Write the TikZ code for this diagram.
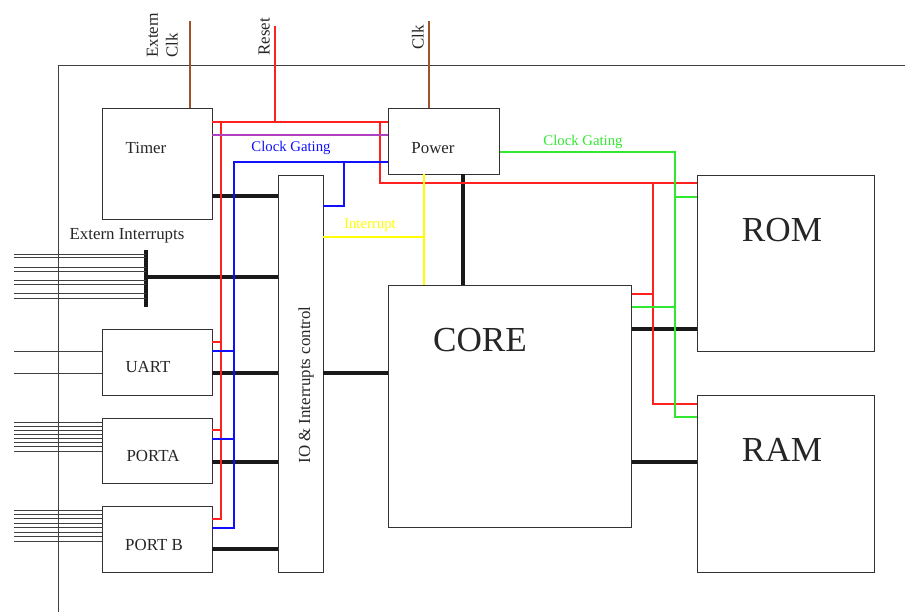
\documentclass[tikz,border=0pt]{standalone}
\usepackage{fontspec}
\setmainfont{Liberation Serif}
\usetikzlibrary{fit}
\definecolor{Brown}{HTML}{A0522D}
\definecolor{Red}{HTML}{FF2020}
\definecolor{Purple}{HTML}{B040C0}
\definecolor{Blue}{HTML}{1010FF}
\definecolor{Green}{HTML}{30E830}
\definecolor{Yellow}{HTML}{FFFF00}
\tikzset{
  blk/.style={draw=black!80,line width=0.7pt,inner sep=0pt},
  bus/.style={line width=2.3pt,black!90},
  wire/.style={line width=0.9pt},
  pin/.style={line width=0.6pt,black!75},
  txt/.style={font=\fontsize{12}{14}\selectfont,text=black!85},
  big/.style={font=\fontsize{25}{30}\selectfont,text=black!85},
  small/.style={font=\fontsize{10.5}{12}\selectfont},
}

\begin{document}
\begin{tikzpicture}[x=0.025cm,y=-0.025cm]
  \useasboundingbox (0,0) rectangle (905,612);
  % chip frame
  \draw[pin] (905,65) -- (58,65) -- (58,612);

  % blocks
  \node[blk,fit={(102,108) (212,219)}] (timer) {};
  \node[blk,fit={(388,108) (499,174)}] (power) {};
  \node[blk,fit={(278,175) (323,572)}] (io) {};
  \node[blk,fit={(388,285) (631,527)}] (core) {};
  \node[blk,fit={(697,175) (874,351)}] (rom) {};
  \node[blk,fit={(697,395) (874,572)}] (ram) {};
  \node[blk,fit={(102,329) (212,395)}] (uart) {};
  \node[blk,fit={(102,418) (212,483)}] (porta) {};
  \node[blk,fit={(102,506) (212,572)}] (portb) {};

  \node[txt] at (146,148) {Timer};
  \node[txt] at (433,148) {Power};
  \node[txt,rotate=90] at (306,385) {IO \& Interrupts control};
  \node[big] at (480,340) {CORE};
  \node[big] at (782,230) {ROM};
  \node[big] at (782,450) {RAM};
  \node[txt] at (148,367) {UART};
  \node[txt] at (153,456) {PORTA};
  \node[txt] at (154,545) {PORT B};
  \node[txt] at (127,236) {Extern Interrupts};

  % external pins
  \coordinate (eclk) at (190,21);
  \coordinate (rst) at (275,26);
  \coordinate (clk) at (429,21);
  \node[txt,rotate=90,anchor=south west,inner sep=0pt,align=left] at (178,58) {Extern\\Clk};
  \node[txt,rotate=90,anchor=south west,inner sep=0pt] at (270,56) {Reset};
  \node[txt,rotate=90,anchor=south west,inner sep=0pt] at (424,50) {Clk};
  \draw[wire,Brown] (eclk) -- (eclk |- timer.north);
  \draw[wire,Brown] (clk) -- (clk |- power.north);

  % interrupt inputs
  \coordinate (irqtop) at (146,250);
  \coordinate (irqbot) at (146,307);
  \draw[bus] (irqtop) -- (irqbot);
  \foreach \y in {254.3,257.7,267.3,271.7,280.7,284.3,293.3,298.3}
    \draw[pin] (14,\y) -- (irqtop |- 0,\y);
  \draw[bus] (irqtop |- 0,277) -- (io.west |- 0,277);

  \foreach \y in {351,373}
    \draw[pin] (14,\y) -- (uart.west |- 0,\y);
  \foreach \i in {0,...,7} {
    \draw[pin] (14,{422+4.15*\i}) -- (porta.west |- 0,{422+4.15*\i});
    \draw[pin] (14,{510+4.43*\i}) -- (portb.west |- 0,{510+4.43*\i});
  }

  % data buses
  \draw[bus] (timer.east |- 0,196) -- (io.west |- 0,196);
  \draw[bus] (uart.east |- 0,373) -- (io.west |- 0,373);
  \draw[bus] (porta.east |- 0,462) -- (io.west |- 0,462);
  \draw[bus] (portb.east |- 0,549) -- (io.west |- 0,549);
  \draw[bus] (io.east |- 0,373) -- (core.west |- 0,373);
  \draw[bus] (power.south -| 463,0) -- (core.north -| 463,0);
  \draw[bus] (core.east |- 0,329) -- (rom.west |- 0,329);
  \draw[bus] (core.east |- 0,462) -- (ram.west |- 0,462);

  % reset
  \draw[wire,Red] (timer.east |- 0,122) -- (power.west |- 0,122);
  \draw[wire,Red] (rst) -- (275,122);
  \draw[wire,Red] (221,122) -- (221,519) -- (portb.east |- 0,519);
  \draw[wire,Red] (uart.east |- 0,342) -- (221,342);
  \draw[wire,Red] (porta.east |- 0,430) -- (221,430);
  \draw[wire,Red] (380,122) -- (380,183) -- (rom.west |- 0,183);
  \draw[wire,Red] (653,183) -- (653,404) -- (ram.west |- 0,404);
  \draw[wire,Red] (core.east |- 0,294) -- (653,294);

  \draw[wire,Purple] (timer.east |- 0,135) -- (power.west |- 0,135);

  % clock gating
  \draw[wire,Blue] (power.west |- 0,162) -- (234,162) -- (234,528) -- (portb.east |- 0,528);
  \draw[wire,Blue] (uart.east |- 0,351) -- (234,351);
  \draw[wire,Blue] (porta.east |- 0,439) -- (234,439);
  \draw[wire,Blue] (344,162) -- (344,206) -- (io.east |- 0,206);
  \node[small,text=Blue] at (291,148) {Clock Gating};

  \draw[wire,Green] (power.east |- 0,152) -- (675,152) -- (675,417) -- (ram.west |- 0,417);
  \draw[wire,Green] (675,197) -- (rom.west |- 0,197);
  \draw[wire,Green] (core.east |- 0,307) -- (675,307);
  \node[small,text=Green] at (583,142) {Clock Gating};

  % interrupt line
  \draw[line width=1.7pt,Yellow] (power.south -| 424,0) -- (core.north -| 424,0);
  \draw[line width=1.7pt,Yellow] (io.east |- 0,237) -- (424,237);
  \node[small,text=Yellow] at (370,225) {Interrupt};
\end{tikzpicture}
\end{document}
